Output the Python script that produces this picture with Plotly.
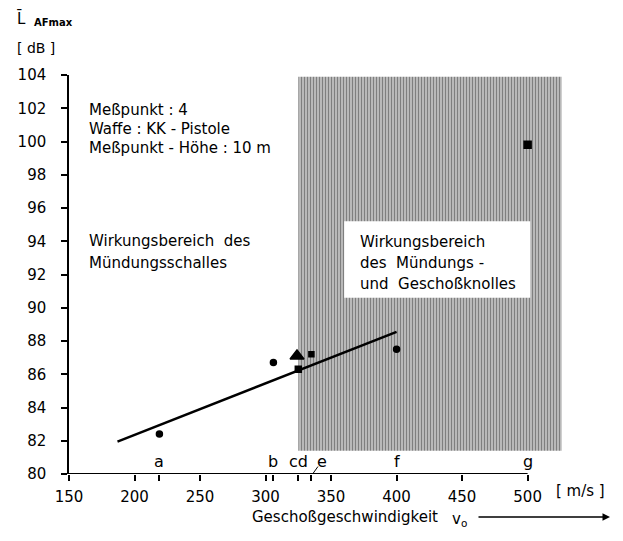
import plotly.graph_objects as go

# ---------------- data ----------------
x_ticks = [150, 200, 250, 300, 350, 400, 450, 500]
y_ticks = list(range(80, 105, 2))

pt_names = ["a", "b", "c", "d", "e", "f", "g"]
pt_speed = [219, 306, 324, 325, 335, 400, 500]
pt_level = [82.4, 86.7, 87.1, 86.3, 87.2, 87.5, 99.8]
pt_symbol = ["circle", "circle", "triangle-up", "square", "square", "circle", "square"]
pt_size = [6, 6, 12, 6, 5, 6, 7]

label_text = ["a", "b", "cd", "e", "f", "g"]
label_speed = [219, 306, 325, 343, 400, 500]
label_level = 80.75
data_ticks = [219, 306, 325, 335]

reg_speed = [187, 400]
reg_level = [81.95, 88.55]

zone_speed = [325, 526]      # hatched zone (Mündungs- und Geschoßknall)
zone_level = [81.4, 103.9]
box_speed = [360, 502]       # white text box in zone
box_level = [90.6, 95.2]

X_MIN, X_MAX, X_AXIS_END = 150, 527, 500
Y_MIN, Y_MAX = 80, 104

FONT = "DejaVu Sans"
W, H = 623, 541
ML, MR, MT, MB = 69, 60, 75, 67
PW, PH = W - ML - MR, H - MT - MB


def px(xp, yp):
    return (xp - ML) / PW, (H - MB - yp) / PH


fig = go.Figure()

# hatched zone
fig.add_trace(go.Scatter(
    x=[zone_speed[0], zone_speed[1], zone_speed[1], zone_speed[0], zone_speed[0]],
    y=[zone_level[0], zone_level[0], zone_level[1], zone_level[1], zone_level[0]],
    mode="none", fill="toself", fillcolor="white",
    fillpattern=dict(shape="|", size=3, solidity=0.7, fgcolor="black", bgcolor="white"),
    hoverinfo="skip", showlegend=False))

# white box inside zone
fig.add_trace(go.Scatter(
    x=[box_speed[0], box_speed[1], box_speed[1], box_speed[0], box_speed[0]],
    y=[box_level[0], box_level[0], box_level[1], box_level[1], box_level[0]],
    mode="none", fill="toself", fillcolor="white",
    hoverinfo="skip", showlegend=False))

# regression line
fig.add_trace(go.Scatter(x=reg_speed, y=reg_level, mode="lines",
                         line=dict(color="black", width=2.5),
                         hoverinfo="skip", showlegend=False))

# points
fig.add_trace(go.Scatter(x=pt_speed, y=pt_level, mode="markers", text=pt_names,
                         marker=dict(symbol=pt_symbol, size=pt_size, color="black",
                                     opacity=1, line=dict(color="black", width=1.5)),
                         cliponaxis=False, showlegend=False))

# letter labels
for t, s in zip(label_text, label_speed):
    fig.add_annotation(x=s, y=label_level, text=t, showarrow=False,
                       font=dict(family=FONT, size=16, color="black"),
                       xanchor="center", yanchor="middle")

# leader for e
fig.add_shape(type="line", x0=335, y0=79.9, x1=340, y1=80.45,
              line=dict(color="black", width=1))

# x axis line (only up to 500)
fig.add_shape(type="line", x0=X_MIN, x1=X_AXIS_END, y0=Y_MIN, y1=Y_MIN,
              line=dict(color="black", width=2))

# texts
def txt(xp, yp, s, size=15, anchor="left", **kw):
    xx, yy = px(xp, yp)
    fig.add_annotation(x=xx, y=yy, xref="paper", yref="paper", text=s,
                       showarrow=False, xanchor=anchor, yanchor="middle",
                       font=dict(family=FONT, size=size, color="black"), **kw)

txt(87, 110, "Meßpunkt : 4")
txt(87, 129, "Waffe : KK - Pistole")
txt(87, 148, "Meßpunkt - Höhe : 10 m")
txt(87, 241, "Wirkungsbereich  des")
txt(87, 263, "Mündungsschalles")
txt(358, 242, "Wirkungsbereich")
txt(358, 263, "des  Mündungs -")
txt(358, 284, "und  Geschoßknolles")

txt(15, 18, "L\u0304", size=15)
txt(32, 22, "<b>AFmax</b>", size=10)
txt(15, 48, "[ dB ]", size=14)

txt(554, 491, "[ m/s ]", size=15)
txt(250, 517, "Geschoßgeschwindigkeit", size=15)
txt(450, 519, "v<sub>o</sub>", size=15)

ax1, ay1 = px(610, 517)
fig.add_annotation(x=ax1, y=ay1, ax=-(610 - 477), ay=0, xref="paper", yref="paper",
                   axref="pixel", ayref="pixel", text="", showarrow=True,
                   arrowhead=2, arrowsize=1, arrowwidth=1.5, arrowcolor="black")

all_x_ticks = x_ticks + data_ticks
all_x_text = [str(v) for v in x_ticks] + ["" for _ in data_ticks]

fig.update_layout(
    width=W, height=H,
    margin=dict(l=ML, r=MR, t=MT, b=MB, pad=0),
    paper_bgcolor="white", plot_bgcolor="white",
    font=dict(family=FONT, size=14, color="black"),
    showlegend=False,
    xaxis=dict(range=[X_MIN, X_MAX], tickmode="array", tickvals=all_x_ticks,
               ticktext=all_x_text,
               showgrid=False, zeroline=False, showline=False,
               ticks="outside", ticklen=6, tickwidth=1.5, tickcolor="black",
               ticklabelstandoff=3,
               tickfont=dict(family=FONT, size=15)),
    yaxis=dict(range=[Y_MIN, Y_MAX], tickmode="array", tickvals=y_ticks,
               showgrid=False, zeroline=False, showline=True, linecolor="black",
               linewidth=1.5, ticks="outside", ticklen=6, tickwidth=1.5,
               tickcolor="black", ticklabelstandoff=12,
               tickfont=dict(family=FONT, size=15)),
)

fig.write_html("out.html")
